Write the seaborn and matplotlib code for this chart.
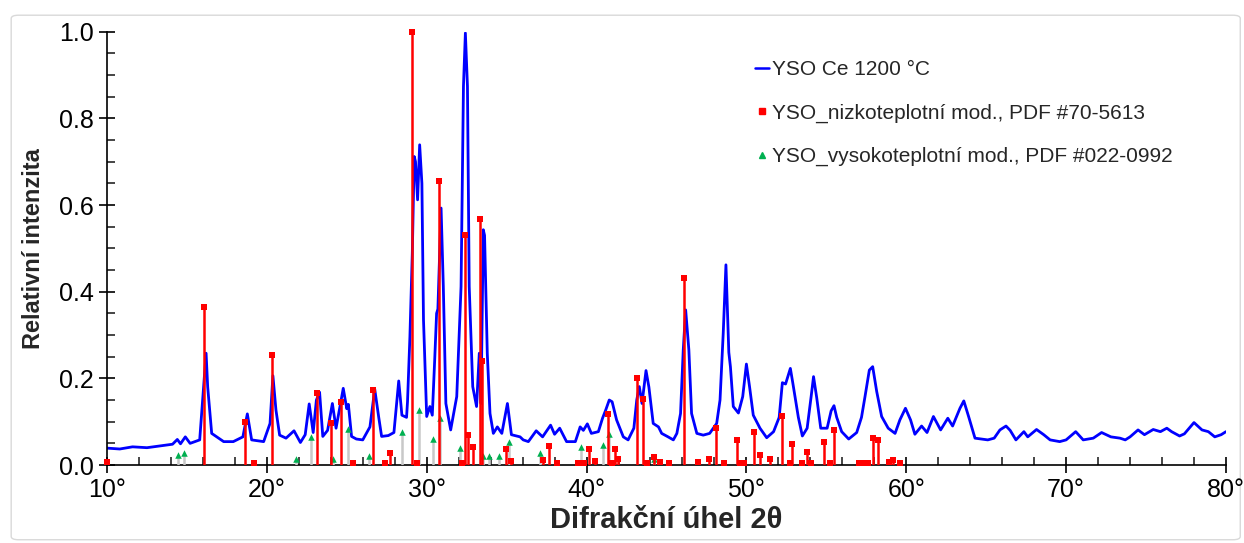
import numpy as np
import pandas as pd
import matplotlib
matplotlib.use("Agg")
import matplotlib.pyplot as plt
from matplotlib.lines import Line2D
from matplotlib.patches import FancyBboxPatch
from matplotlib.ticker import MultipleLocator, FuncFormatter
import seaborn as sns

# namerena difrakce (2theta, relativni intenzita)
uhel = [10.0, 10.8, 11.6, 12.5, 13.7, 14.1, 14.4, 14.6, 14.9, 15.2, 15.8, 16.0, 16.2, 16.3, 16.55,
        17.3, 17.9, 18.5, 18.78, 19.05, 19.8, 20.2, 20.38, 20.57, 20.8, 21.2, 21.7, 22.1, 22.4,
        22.65, 22.9, 23.1, 23.3, 23.5, 23.8, 24.1, 24.33, 24.78, 25.0, 25.1, 25.3, 25.6, 26.0,
        26.45, 26.75, 27.0, 27.18, 27.6, 27.95, 28.25, 28.45, 28.74, 28.8, 28.95, 29.1, 29.22,
        29.3, 29.43, 29.56, 29.7, 29.8, 30.0, 30.2, 30.35, 30.5, 30.62, 30.7, 30.9, 31.04, 31.2,
        31.5, 31.88, 32.15, 32.3, 32.42, 32.55, 32.66, 32.88, 33.12, 33.29, 33.4, 33.54, 33.62,
        33.79, 33.96, 34.17, 34.42, 34.7, 35.05, 35.3, 35.84, 36.04, 36.36, 36.85, 37.25, 37.75,
        38.0, 38.32, 38.75, 39.3, 39.6, 39.8, 40.05, 40.3, 40.74, 41.0, 41.2, 41.42, 41.6, 41.88,
        42.3, 42.6, 42.96, 43.14, 43.3, 43.47, 43.72, 43.9, 44.17, 44.5, 44.7, 45.1, 45.43, 45.65,
        45.88, 46.05, 46.2, 46.4, 46.57, 46.9, 47.3, 47.7, 48.14, 48.35, 48.55, 48.72, 48.9, 49.0,
        49.18, 49.5, 49.77, 50.0, 50.2, 50.43, 50.85, 51.27, 51.7, 52.05, 52.25, 52.45, 52.75,
        52.9, 53.25, 53.5, 53.8, 54.05, 54.2, 54.4, 54.65, 55.05, 55.3, 55.48, 55.65, 55.96, 56.4,
        56.9, 57.2, 57.42, 57.69, 57.9, 58.15, 58.46, 58.87, 59.3, 59.6, 59.95, 60.27, 60.54,
        60.96, 61.3, 61.7, 62.15, 62.6, 62.9, 63.36, 63.6, 63.9, 64.3, 65.1, 65.5, 65.86, 66.24,
        66.5, 66.86, 67.36, 67.6, 68.15, 68.6, 69.0, 69.6, 70.0, 70.6, 71.07, 71.7, 72.22, 72.8,
        73.37, 73.7, 74.0, 74.5, 74.9, 75.45, 75.9, 76.3, 76.6, 77.1, 77.4, 78.0, 78.5, 78.9,
        79.3, 79.7, 80.0]
intenzita = [0.039, 0.037, 0.042, 0.040, 0.046, 0.048, 0.059, 0.049, 0.065, 0.050, 0.058, 0.158,
             0.258, 0.180, 0.073, 0.054, 0.054, 0.065, 0.118, 0.058, 0.054, 0.096, 0.206, 0.127,
             0.069, 0.062, 0.079, 0.052, 0.070, 0.141, 0.075, 0.150, 0.168, 0.066, 0.080, 0.142,
             0.085, 0.177, 0.130, 0.140, 0.066, 0.060, 0.058, 0.088, 0.175, 0.110, 0.066, 0.068,
             0.075, 0.194, 0.115, 0.110, 0.146, 0.296, 0.489, 0.712, 0.700, 0.612, 0.739, 0.650,
             0.335, 0.112, 0.135, 0.115, 0.242, 0.350, 0.360, 0.593, 0.412, 0.142, 0.081, 0.158,
             0.412, 0.874, 0.997, 0.874, 0.412, 0.181, 0.135, 0.258, 0.142, 0.543, 0.530, 0.258,
             0.119, 0.073, 0.088, 0.073, 0.142, 0.070, 0.065, 0.058, 0.054, 0.079, 0.065, 0.092,
             0.071, 0.085, 0.054, 0.054, 0.088, 0.080, 0.095, 0.073, 0.077, 0.108, 0.127, 0.150,
             0.146, 0.104, 0.065, 0.058, 0.085, 0.150, 0.181, 0.142, 0.218, 0.180, 0.096, 0.088,
             0.073, 0.065, 0.058, 0.073, 0.119, 0.266, 0.358, 0.266, 0.119, 0.073, 0.069, 0.073,
             0.096, 0.150, 0.304, 0.462, 0.260, 0.227, 0.135, 0.120, 0.158, 0.233, 0.180, 0.115,
             0.085, 0.063, 0.077, 0.110, 0.190, 0.187, 0.223, 0.190, 0.110, 0.067, 0.085, 0.158,
             0.204, 0.155, 0.085, 0.085, 0.125, 0.137, 0.110, 0.077, 0.060, 0.075, 0.110, 0.158,
             0.219, 0.227, 0.170, 0.112, 0.085, 0.073, 0.104, 0.131, 0.104, 0.071, 0.090, 0.075,
             0.112, 0.081, 0.108, 0.090, 0.131, 0.148, 0.112, 0.062, 0.058, 0.062, 0.081, 0.090,
             0.080, 0.058, 0.077, 0.065, 0.082, 0.070, 0.058, 0.054, 0.058, 0.077, 0.058, 0.062,
             0.075, 0.065, 0.062, 0.058, 0.065, 0.081, 0.070, 0.082, 0.077, 0.085, 0.077, 0.067,
             0.072, 0.098, 0.081, 0.077, 0.065, 0.070, 0.077]

# PDF #70-5613 (nizkoteplotni modifikace)
nizko_uhel = [10.0, 16.05, 18.63, 19.2, 20.3, 23.13, 24.0, 24.62, 25.42, 26.66, 27.42, 27.72,
              29.06, 29.38, 30.78, 32.2, 32.42, 32.6, 32.9, 33.36, 33.46, 34.93, 35.25, 37.27,
              37.63, 38.13, 39.48, 39.84, 40.15, 40.5, 41.32, 41.57, 41.8, 41.94, 43.13, 43.53,
              43.76, 44.21, 44.59, 45.17, 46.07, 46.99, 47.68, 48.1, 48.6, 49.42, 49.6, 49.85,
              50.47, 50.85, 51.5, 52.22, 52.7, 52.83, 53.45, 53.77, 54.05, 54.86, 55.2, 55.49,
              57.06, 57.34, 57.6, 57.92, 58.25, 58.9, 59.19, 59.58]
nizko_int = [0.008, 0.365, 0.100, 0.005, 0.254, 0.167, 0.098, 0.146, 0.005, 0.172, 0.005, 0.028,
             1.000, 0.005, 0.656, 0.005, 0.531, 0.070, 0.041, 0.567, 0.239, 0.038, 0.010, 0.011,
             0.043, 0.005, 0.005, 0.005, 0.037, 0.009, 0.117, 0.005, 0.037, 0.013, 0.200, 0.153,
             0.005, 0.019, 0.008, 0.005, 0.432, 0.008, 0.015, 0.085, 0.005, 0.058, 0.005, 0.005,
             0.077, 0.023, 0.014, 0.114, 0.005, 0.049, 0.005, 0.031, 0.004, 0.054, 0.005, 0.081,
             0.004, 0.004, 0.004, 0.062, 0.058, 0.006, 0.011, 0.004]

# PDF #022-0992 (vysokoteplotni modifikace)
vysoko_uhel = [14.42, 14.82, 21.8, 22.75, 24.16, 25.1, 26.4, 28.46, 29.52, 30.42, 30.83, 32.06,
               33.5, 33.92, 34.54, 35.15, 37.11, 39.65, 41.05, 41.39, 44.22]
vysoko_int = [0.022, 0.027, 0.015, 0.065, 0.015, 0.082, 0.021, 0.077, 0.127, 0.059, 0.108, 0.040,
              0.021, 0.021, 0.021, 0.052, 0.027, 0.041, 0.046, 0.071, 0.015]

popisky = ["YSO Ce 1200 °C", "YSO_nizkoteplotní mod., PDF #70-5613",
           "YSO_vysokoteplotní mod., PDF #022-0992"]

modra = "#0000ff"
cervena = "#ff0000"
zelena = "#00b050"
seda = "#c8c8c8"

sns.set_style("ticks")
plt.rcParams["font.family"] = ["Liberation Sans", "DejaVu Sans"]

df = pd.DataFrame({"uhel": uhel, "intenzita": intenzita})
df_n = pd.DataFrame({"uhel": nizko_uhel, "intenzita": nizko_int})
df_v = pd.DataFrame({"uhel": vysoko_uhel, "intenzita": vysoko_int})

fig = plt.figure(figsize=(12.44, 5.43), dpi=100)
ax = fig.add_axes([0.086, 0.1436, 0.8995, 0.798])

# ramecek kolem celeho grafu
fig.patches.append(FancyBboxPatch((0.009, 0.006), 0.988, 0.966, boxstyle="round,pad=0,rounding_size=0.006",
                                  transform=fig.transFigure, facecolor="none", edgecolor="#d9d9d9",
                                  linewidth=1.0, zorder=-1))

sns.lineplot(data=df, x="uhel", y="intenzita", ax=ax, color=modra, linewidth=2.0,
             sort=False, estimator=None, zorder=2)

ax.vlines(df_v["uhel"], 0, df_v["intenzita"], color=seda, linewidth=1.8, zorder=3)
sns.scatterplot(data=df_v, x="uhel", y="intenzita", ax=ax, marker="^", color=zelena,
                s=22, linewidth=0, zorder=4, clip_on=False)

ax.vlines(df_n["uhel"], 0, df_n["intenzita"], color=cervena, linewidth=1.8, zorder=5)
sns.scatterplot(data=df_n, x="uhel", y="intenzita", ax=ax, marker="s", color=cervena,
                s=16, linewidth=0, zorder=6, clip_on=False)

ax.set_xlim(10, 80)
ax.set_ylim(0, 1.0)
ax.xaxis.set_major_locator(MultipleLocator(10))
ax.xaxis.set_minor_locator(MultipleLocator(2))
ax.yaxis.set_major_locator(MultipleLocator(0.2))
ax.yaxis.set_minor_locator(MultipleLocator(0.05))
ax.xaxis.set_major_formatter(FuncFormatter(lambda v, p: f"{v:.0f}°"))
ax.yaxis.set_major_formatter(FuncFormatter(lambda v, p: f"{v:.1f}"))

sns.despine(ax=ax)
for s in ["left", "bottom"]:
    ax.spines[s].set_linewidth(1.2)
    ax.spines[s].set_color("black")
ax.tick_params(which="major", direction="inout", length=11, width=1.2, labelsize=18, pad=4,
               colors="black")
ax.tick_params(which="minor", direction="in", length=5.5, width=1.2)

ax.set_xlabel("Difrakční úhel 2θ", fontsize=21, fontweight="bold", labelpad=3)
ax.set_ylabel("Relativní intenzita", fontsize=17, fontweight="bold", labelpad=10)

handles = [Line2D([], [], color=modra, linewidth=1.8),
           Line2D([], [], color=cervena, marker="s", linestyle="none", markersize=4),
           Line2D([], [], color=zelena, marker="^", linestyle="none", markersize=4)]
ax.legend(handles, popisky, loc="upper left", bbox_to_anchor=(0.579, 0.935), frameon=False,
          fontsize=15, handlelength=0.7, handletextpad=0.1, labelspacing=1.17, borderpad=0,
          borderaxespad=0)

fig.savefig("out.png", dpi=100)
